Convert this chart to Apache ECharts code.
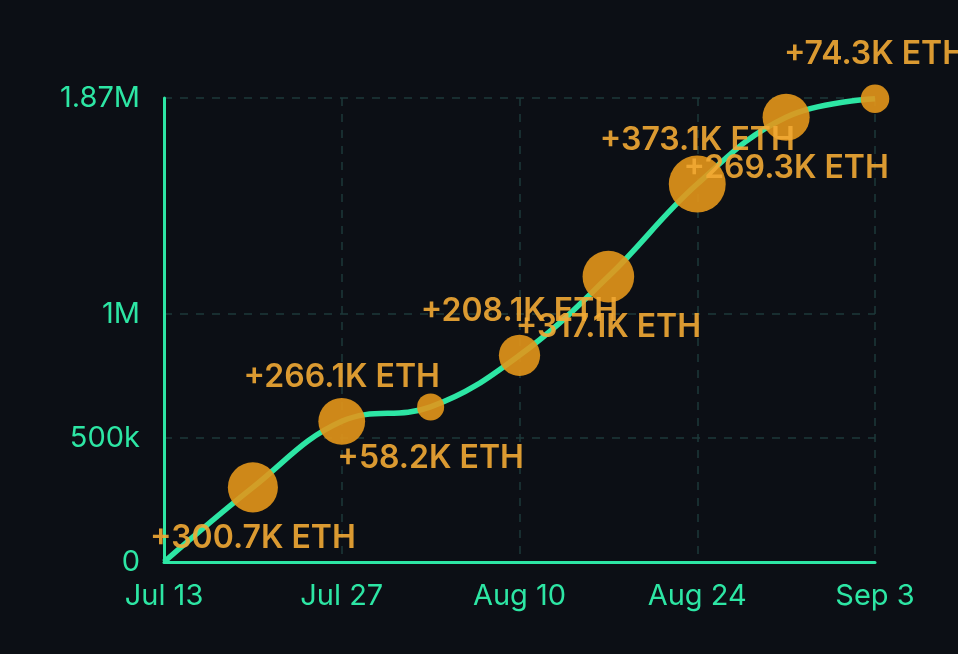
<!DOCTYPE html>
<html>
<head>
<meta charset="utf-8">
<style>
  html, body { margin: 0; padding: 0; background: #0c0f15; }
  #chart { width: 958px; height: 654px; }
</style>
<script src="https://cdn.jsdelivr.net/npm/echarts@6/dist/echarts.min.js"></script>
</head>
<body>
<div id="chart"></div>
<script>
  // categories: start point + 8 inflow points, labels only on every other one
  var categories = ['Jul 13', '', 'Jul 27', '', 'Aug 10', '', 'Aug 24', '', 'Sep 3'];
  // ETH added at each point (K)
  var added = [300.7, 266.1, 58.2, 208.1, 317.1, 373.1, 269.3, 74.3];
  // cumulative holdings (ETH)
  var total = [0, 300700, 566800, 625000, 833100, 1150200, 1523300, 1792600, 1866900];
  var yTicks = [0, 500000, 1000000, 1870000];
  var yTickLabels = { 0: '0', 500000: '500k', 1000000: '1M', 1870000: '1.87M' };

  var green = '#2de6a4';
  var orange = '#f2aa34';
  var font = 'Inter, "Noto Sans", sans-serif';

  var chart = echarts.init(document.getElementById('chart'));

  var bubbles = added.map(function (v, i) {
    return {
      value: [i + 1, total[i + 1]],
      symbolSize: 21.5 + 0.095 * v
    };
  });

  var option = {
    backgroundColor: '#0c0f15',
    animation: false,
    grid: { left: 164, right: 83, top: 98, bottom: 92 },
    xAxis: {
      type: 'category',
      boundaryGap: false,
      data: categories,
      axisLine: { lineStyle: { color: green, width: 3 } },
      axisTick: { show: false },
      axisLabel: {
        interval: 1,
        color: green,
        fontSize: 29,
        fontFamily: font,
        margin: 20
      },
      splitLine: {
        show: true,
        interval: 1,
        lineStyle: { color: '#1c3a3a', type: [8, 8], width: 1.5 }
      }
    },
    yAxis: {
      type: 'value',
      min: 0,
      max: 1870000,
      axisLine: { show: true, lineStyle: { color: green, width: 3 } },
      axisTick: { show: false, customValues: yTicks },
      axisLabel: {
        customValues: yTicks,
        color: green,
        fontSize: 29,
        fontFamily: font,
        margin: 24,
        formatter: function (v) { return yTickLabels[v]; }
      },
      splitLine: {
        show: true,
        lineStyle: { color: '#1c3a3a', type: [8, 8], width: 1.5 }
      }
    },
    series: [{
      type: 'line',
      data: total,
      smooth: 0.4,
      showSymbol: false,
      lineStyle: { color: green, width: 5.5 },
      z: 2
    }, {
      type: 'scatter',
      data: bubbles,
      itemStyle: { color: '#e3961a', opacity: 0.9 },
      label: {
        show: true,
        position: 'inside',
        color: orange,
        fontSize: 32,
        fontWeight: 600,
        fontFamily: font,
        formatter: function (p) { return '+' + added[p.dataIndex] + 'K ETH'; }
      },
      // labels alternate below / above the bubbles
      labelLayout: function (p) {
        var up = p.dataIndex % 2 === 1;
        return {
          dy: up ? -44 : 51,
          hideOverlap: false
        };
      },
      z: 3
    }]
  };

  chart.setOption(option);
</script>
</body>
</html>
